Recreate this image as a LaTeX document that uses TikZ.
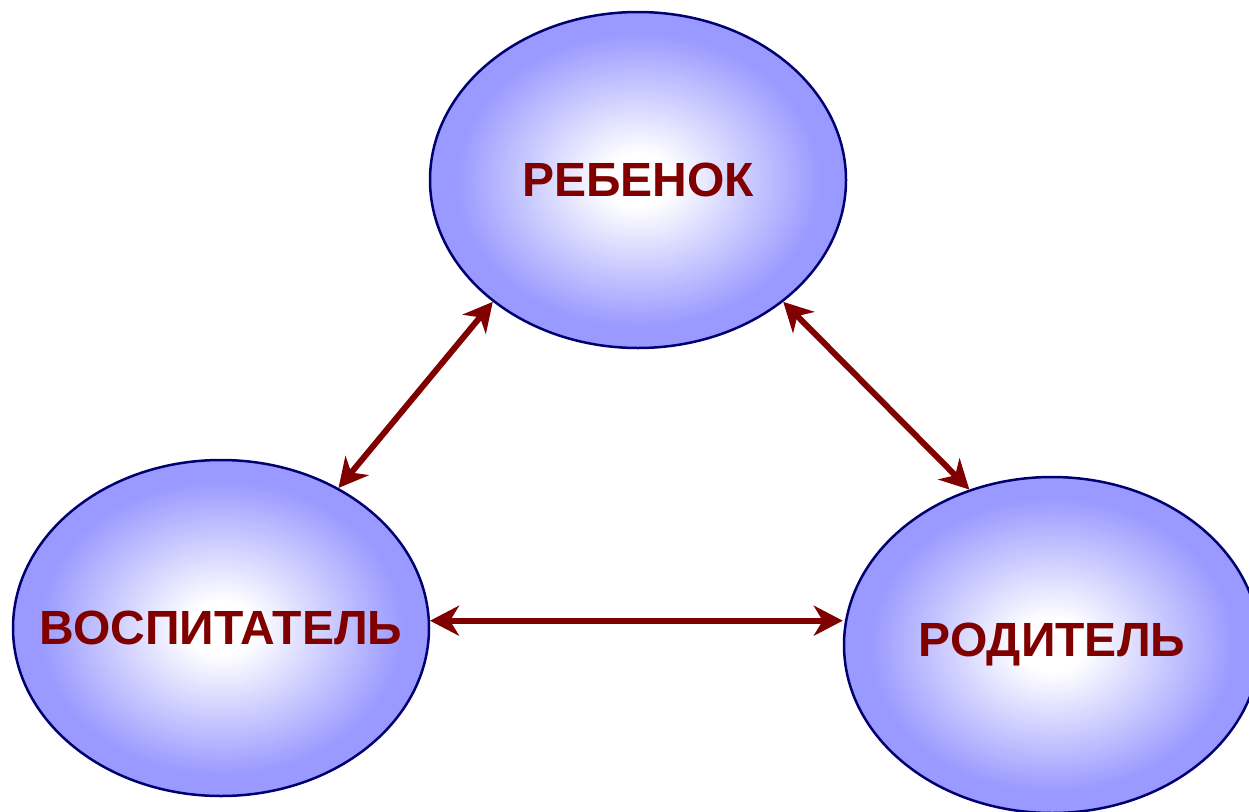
\documentclass[tikz,border=0pt]{standalone}
\usepackage{fontspec}
\setmainfont{Liberation Sans}
\usepackage{xcolor}
\usepackage{tikz}
\usetikzlibrary{shapes, arrows.meta}

\definecolor{ovalblue}{RGB}{153,153,255}
\definecolor{ovalline}{RGB}{0,0,112}
\definecolor{darkred}{RGB}{128,0,0}
\pgfdeclareradialshading{ovalshade}{\pgfpoint{0bp}{0bp}}{color(0bp)=(white); color(4bp)=(white); color(22bp)=(ovalblue); color(50bp)=(ovalblue)}
% keep long words from widening the ovals
\newcommand\ovaltext[1]{\makebox[0pt]{#1}}

\begin{document}
\begin{tikzpicture}[x=1pt,y=-1pt,>={Stealth[length=29pt,width=30pt,inset=9pt]},
      main node/.style={ellipse,draw=ovalline,line width=2.5pt,shading=ovalshade,
        minimum width=416pt,minimum height=336pt,inner sep=0pt,
        text=darkred,font=\fontsize{48}{50}\selectfont\bfseries},
      link/.style={<->,draw=darkred,line width=6pt}]
    \useasboundingbox (0,0) rectangle (1249,811);

        \node[main node] (1) at (638,180) {\ovaltext{РЕБЕНОК}};
        \node[main node] (2) at (221,628) {\ovaltext{ВОСПИТАТЕЛЬ}};
        \node[main node] (3) at (1052,645) {\ovaltext{РОДИТЕЛЬ}};

        \path[every edge/.style={link}]
            (2.50) edge (1.220)
            (1.320) edge (3.118)
            (2.2.2) edge (2.2.2 -| 3.west)
        ;
    \end{tikzpicture}
\end{document}
